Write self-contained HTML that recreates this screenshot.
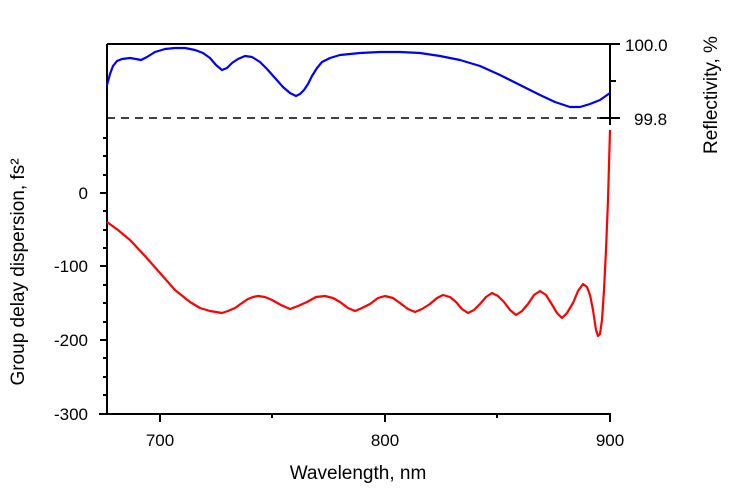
<!DOCTYPE html>
<html><head><style>body{margin:0;background:#fff}svg{display:block;font-family:"Liberation Sans",sans-serif}</style></head>
<body>
<svg width="736" height="500" xmlns="http://www.w3.org/2000/svg">
<g stroke="#000" stroke-width="2" fill="none">
<line x1="107" y1="44" x2="620" y2="44"/>
<line x1="107" y1="44" x2="107" y2="415"/>
<line x1="99" y1="414" x2="611" y2="414"/>
<line x1="610" y1="44" x2="610" y2="125"/>
<line x1="600" y1="118" x2="620" y2="118"/>
<line x1="610" y1="81" x2="616" y2="81"/>
<line x1="100" y1="193" x2="107" y2="193"/><line x1="100" y1="266" x2="107" y2="266"/><line x1="100" y1="340" x2="107" y2="340"/>
<line x1="103" y1="138" x2="107" y2="138"/><line x1="103" y1="156" x2="107" y2="156"/><line x1="103" y1="175" x2="107" y2="175"/>
<line x1="103" y1="211" x2="107" y2="211"/><line x1="103" y1="230" x2="107" y2="230"/><line x1="103" y1="248" x2="107" y2="248"/>
<line x1="103" y1="285" x2="107" y2="285"/><line x1="103" y1="303" x2="107" y2="303"/><line x1="103" y1="322" x2="107" y2="322"/>
<line x1="103" y1="358" x2="107" y2="358"/><line x1="103" y1="377" x2="107" y2="377"/><line x1="103" y1="395" x2="107" y2="395"/>
<line x1="160" y1="414" x2="160" y2="422"/><line x1="385" y1="414" x2="385" y2="422"/><line x1="610" y1="414" x2="610" y2="422"/>
<line x1="272" y1="414" x2="272" y2="418"/><line x1="497" y1="414" x2="497" y2="418"/>
</g>
<line x1="107" y1="118" x2="610" y2="118" stroke="#000" stroke-width="1.5" stroke-dasharray="8,6"/>
<polyline fill="none" stroke="#00f" stroke-width="2.2" stroke-linejoin="round" points="107,85 110,74 113,66 117,61 122,59 130,58 136,59 141,60 147,57 155,52 165,49 175,48 185,48 195,50 203,53 210,58 216,65 222,70 227,68 232,63 238,59 245,56 252,57 260,62 267,69 275,78 283,87 290,93 296,96 300,94 304,90 308,84 312,76 317,68 322,62 330,58 340,55 360,53 380,52 400,52 420,53 440,56 460,60 480,66 500,75 520,85 540,95 555,102 570,107 580,107 590,104 600,100 610,93"/>
<polyline fill="none" stroke="#f00" stroke-width="2.2" stroke-linejoin="round" points="107,222 118,230 130,240 145,256 160,273 175,290 190,302 200,308 210,311 216,312 222,313 228,311 235,308 242,303 248,299 253,297 258,296 265,297 272,300 281,305 290,309 298,306 307,302 316,297 325,296 333,298 340,302 348,308 355,311 362,308 370,304 378,298 385,296 393,298 400,303 408,309 415,312 422,309 430,304 437,298 443,295 450,297 456,302 462,309 468,313 474,310 480,304 486,297 492,293 498,296 504,302 510,310 516,315 522,311 528,304 534,295 540,291 546,295 551,303 557,313 562,318 567,313 573,303 578,291 583,284 587,287 590,295 593,310 596,330 598,336 600,334 602,320 604,290 606,250 608,200 610,130"/>
<g font-size="17" fill="#000">
<text x="88" y="199" text-anchor="end">0</text>
<text x="88" y="272" text-anchor="end">-100</text>
<text x="88" y="346" text-anchor="end">-200</text>
<text x="88" y="420" text-anchor="end">-300</text>
<text x="160" y="446" text-anchor="middle">700</text>
<text x="385" y="446" text-anchor="middle">800</text>
<text x="610" y="446" text-anchor="middle">900</text>
<text x="625" y="51">100.0</text>
<text x="634" y="125">99.8</text>
<text x="358" y="479" text-anchor="middle" font-size="19">Wavelength, nm</text>
<text transform="translate(24,272) rotate(-90)" text-anchor="middle" font-size="19">Group delay dispersion, fs²</text>
<text transform="translate(717,95) rotate(-90)" text-anchor="middle" font-size="19">Reflectivity, %</text>
</g>
</svg>
</body></html>
